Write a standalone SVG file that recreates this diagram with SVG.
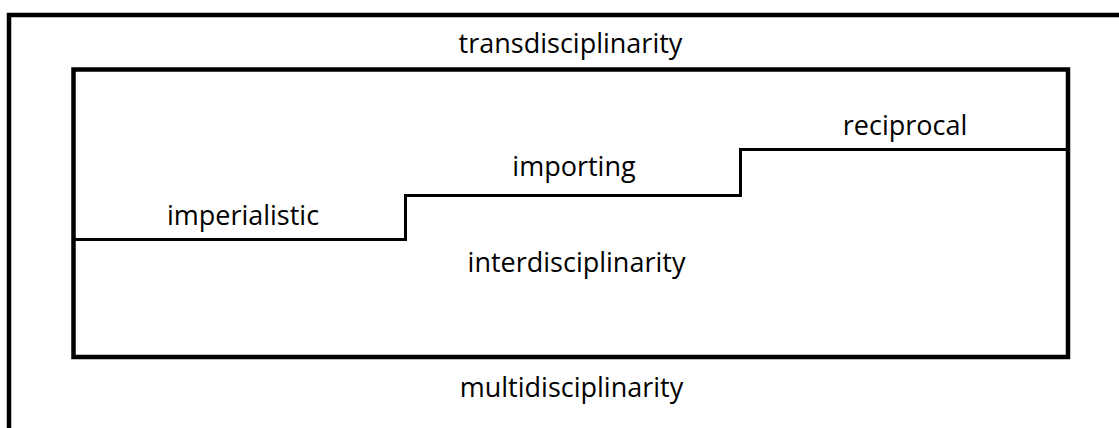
<svg xmlns="http://www.w3.org/2000/svg" width="1119" height="428" viewBox="0 0 1119 428">
  <style>
    .frame { fill: none; stroke: #000; stroke-width: 4.5; stroke-linejoin: miter; }
    .step { fill: none; stroke: #000; stroke-width: 3; stroke-linejoin: miter; }
    .lbl { font-family: "Open Sans", "Liberation Sans", sans-serif; font-size: 27px; fill: #000; text-anchor: middle; }
  </style>
  <rect width="1119" height="428" fill="#fff"/>

  <!-- outer region: multidisciplinarity, open to the right and bottom -->
  <g id="multidisciplinarity">
    <path class="frame" d="M9,440 V15 H1130"/>
    <text class="lbl" x="571.5" y="397">multidisciplinarity</text>
  </g>

  <!-- inner region: interdisciplinarity -->
  <g id="interdisciplinarity">
    <rect class="frame" x="73.5" y="69.5" width="994.5" height="287.5"/>
    <text class="lbl" x="576.5" y="272">interdisciplinarity</text>
  </g>

  <g id="transdisciplinarity">
    <text class="lbl" x="570.5" y="53">transdisciplinarity</text>
  </g>

  <!-- staircase dividing the inner region -->
  <g id="connectors">
    <path class="step" d="M73.5,239.5 H405.5 V195.5 H740.5 V149.5 H1068"/>
  </g>

  <g id="imperialistic">
    <text class="lbl" x="243" y="225">imperialistic</text>
  </g>
  <g id="importing">
    <text class="lbl" x="574" y="176">importing</text>
  </g>
  <g id="reciprocal">
    <text class="lbl" x="905" y="135">reciprocal</text>
  </g>
</svg>
